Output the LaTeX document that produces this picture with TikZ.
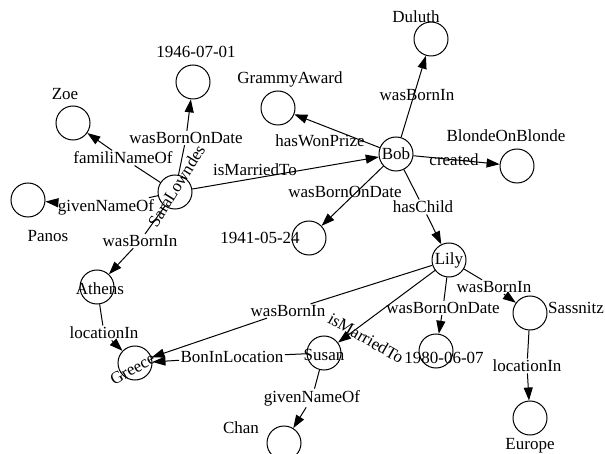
\documentclass[tikz,border=0pt]{standalone}
\usepackage{fontspec}
\setmainfont{Liberation Serif}
\usetikzlibrary{arrows.meta}

\begin{document}
\begin{tikzpicture}[x=1pt, y=-1pt, line width=1pt,
    font=\fontsize{17}{19}\selectfont,
    >={Triangle[length=13pt,width=9pt]}]
\tikzstyle{ent}=[circle, draw, minimum size=34pt, inner sep=0pt]
\tikzstyle{rel}=[inner sep=1pt]
\useasboundingbox (0,0) rectangle (605,454);
% entities
\node[ent, label={[xshift=-15pt,yshift=22pt]center:Duluth}] (duluth) at (431,39) {};
\node[ent, label={[xshift=12pt,yshift=29pt]center:GrammyAward}] (grammy) at (278,108) {};
\node[ent, label={[xshift=-8pt,yshift=29pt]center:Zoe}] (zoe) at (73,123) {};
\node[ent, label={[xshift=3pt,yshift=30pt]center:1946-07-01}] (d1946) at (193,82) {};
\node[ent, label={[rotate=58,xshift=6pt,yshift=2pt]center:SaraLowndes}] (sara) at (175,192) {};
\node[ent, label={[xshift=20pt,yshift=-36pt]center:Panos}] (panos) at (28,200) {};
\node[ent, label=center:Bob] (bob) at (396,154) {};
\node[ent, label={[xshift=-11pt,yshift=30pt]center:BlondeOnBlonde}] (blonde) at (517,166) {};
\node[ent, label={[xshift=-49pt]center:1941-05-24}] (d1941) at (309,238) {};
\node[ent, label=center:Lily] (lily) at (449,260) {};
\node[ent, label={[xshift=3pt,yshift=-2pt]center:Athens}] (athens) at (97,287) {};
\node[ent, label={[rotate=29,xshift=-5pt,yshift=-4pt]center:Greece}] (greece) at (135,363) {};
\node[ent, label={[yshift=-2pt]center:Susan}] (susan) at (324,353) {};
\node[ent, label={[xshift=8pt,yshift=-7pt]center:1980-06-07}] (d1980) at (436,351) {};
\node[ent, label={[xshift=46pt,yshift=5pt]center:Sassnitz}] (sassnitz) at (530,313) {};
\node[ent, label={[yshift=-28pt]center:Europe}] (europe) at (530,418) {};
\node[ent, label={[xshift=-43pt,yshift=15pt]center:Chan}] (chan) at (284,443) {};
% relation labels
\node[rel] (lDul) at (417,95) {wasBornIn};
\node[rel] (lGram) at (320,141) {hasWonPrize};
\node[rel] (lMarSB) at (255,170) {isMarriedTo};
\node[rel] (lCre) at (454,160) {created};
\node[rel] (lBobD) at (345,192) {wasBornOnDate};
\node[rel] (lChild) at (423,207) {hasChild};
\node[rel] (lFam) at (123,158) {familiNameOf};
\node[rel] (lSaraD) at (186,138) {wasBornOnDate};
\node[rel] (lGiv) at (106,207) {givenNameOf};
\node[rel] (lSaraB) at (140,241) {wasBornIn};
\node[rel] (lLoc1) at (104,333) {locationIn};
\node[rel] (lLilyB) at (288,311) {wasBornIn};
\node[rel] (lBon) at (232,357) {BonInLocation};
\node[rel, rotate=-30] (lMarLS) at (366,338) {isMarriedTo};
\node[rel] (lLilyD) at (443,308) {wasBornOnDate};
\node[rel] (lLilyS) at (494,287) {wasBornIn};
\node[rel] (lLoc2) at (527,366) {locationIn};
\node[rel] (lSusG) at (312,398) {givenNameOf};
% edges whose label sits beside the line
\draw[->] (bob) -- (duluth);
\draw[->] (bob) -- (grammy);
\draw[->] (sara) -- (bob);
\draw[->] (bob) -- (blonde);
\draw[->] (bob) -- (d1941);
\draw[->] (lily) -- (susan);
% edges cut by their label
\draw (bob) -- (lChild);  \draw[->] (lChild) -- (lily);
\draw (sara) -- (lFam);   \draw[->] (lFam) -- (zoe);
\draw (sara) -- (lSaraD); \draw[->] (lSaraD) -- (d1946);
\draw (sara) -- (lGiv);   \draw[->] (lGiv) -- (panos);
\draw (sara) -- (lSaraB); \draw[->] (lSaraB) -- (athens);
\draw (athens) -- (lLoc1); \draw[->] (lLoc1) -- (greece);
\draw (lily) -- (lLilyB); \draw[->] (lLilyB) -- (greece);
\draw (susan) -- (lBon);  \draw[->] (lBon) -- (greece);
\draw (lily) -- (lLilyD); \draw[->] (lLilyD) -- (d1980);
\draw (lily) -- (lLilyS); \draw[->] (lLilyS) -- (sassnitz);
\draw (sassnitz) -- (lLoc2); \draw[->] (lLoc2) -- (europe);
\draw (susan) -- (lSusG); \draw[->] (lSusG) -- (chan);
\end{tikzpicture}
\end{document}
